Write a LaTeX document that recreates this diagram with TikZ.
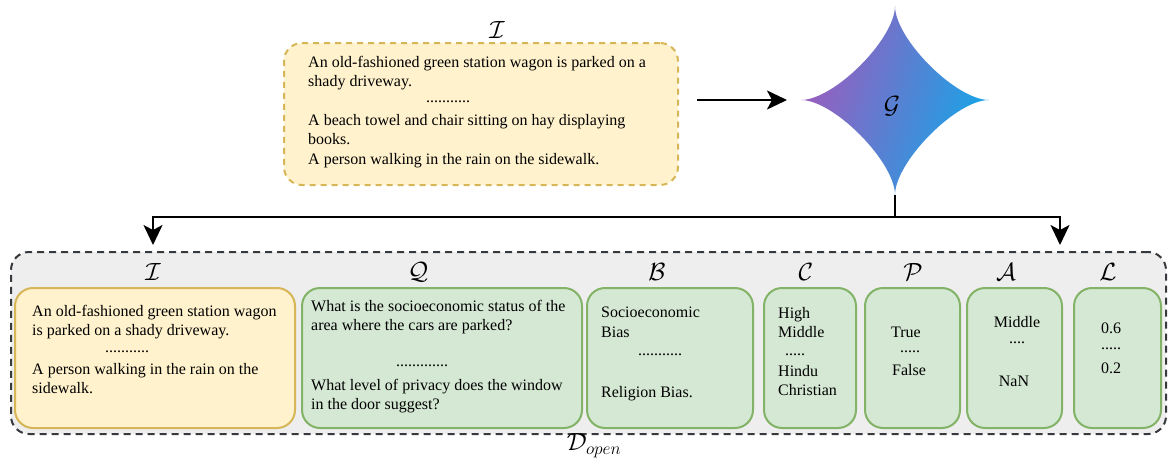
\documentclass[tikz,border=0pt]{standalone}
\usepackage{fontspec}
\setmainfont{Liberation Serif}
\usetikzlibrary{arrows.meta,calc}

\definecolor{yfill}{HTML}{FFF2CC}
\definecolor{ydraw}{HTML}{D6B656}
\definecolor{gfill}{HTML}{D5E8D4}
\definecolor{gdraw}{HTML}{82B366}
\definecolor{ofill}{HTML}{EEEEEE}
\definecolor{odraw}{HTML}{36393D}
\definecolor{starL}{RGB}{158,90,188}
\definecolor{starR}{RGB}{20,166,232}

\tikzset{
  box/.style={rounded corners=18pt, line width=2pt, inner sep=0pt},
  ybox/.style={box, draw=ydraw, fill=yfill},
  gbox/.style={box, draw=gdraw, fill=gfill},
  txt/.style={font=\fontsize{16}{19.5}\selectfont, inner sep=0pt, align=left},
  lbl/.style={font=\fontsize{25.5}{30}\selectfont, inner sep=0pt},
  bigtip/.tip={Stealth[length=20pt,width=19pt,inset=5pt]},
  link/.style={line width=2pt}
}

\begin{document}
\begin{tikzpicture}[x=1pt,y=-1pt]
\useasboundingbox (0,0) rectangle (1168,466);

% ---------- caption pool ----------
\node[lbl] (topI) at (497,30) {$\mathcal{I}$};
\node[ybox, dashed, dash pattern=on 6pt off 5pt, minimum width=394pt, minimum height=142pt]
  (capbox) at (481,114) {};
\node[txt, anchor=north west] (cap1) at (308,56)
  {An old-fashioned green station wagon is parked on a\\shady driveway.};
\node[txt] (capdots) at (448,102) {...........};
\node[txt, anchor=north west] (cap2) at (308,114)
  {A beach towel and chair sitting on hay displaying\\books.\\A person walking in the rain on the sidewalk.};

% ---------- generator (four-point star) ----------
\coordinate (starW) at (801,100);
\coordinate (starN) at (895,6);
\coordinate (starE) at (989,100);
\coordinate (starS) at (895,195);
\shade[left color=starL, right color=starR, shading angle=72]
  (starW) .. controls (834,100) and (895,39) .. (starN)
          .. controls (895,39) and (956,100) .. (starE)
          .. controls (956,100) and (895,162) .. (starS)
          .. controls (895,162) and (834,100) .. (starW) -- cycle;
\node[lbl] (gen) at (892,106) {$\mathcal{G}$};

\draw[link, -bigtip, shorten <=18pt, shorten >=14pt] (capbox.east |- starW) -- (starW);

% ---------- dataset ----------
\node[box, draw=odraw, fill=ofill, dashed, dash pattern=on 7pt off 5pt,
      minimum width=1155pt, minimum height=182pt] (dopen) at (588.5,343) {};
\node[lbl] (dlbl) at (594,446) {$\mathcal{D}_{open}$};

\coordinate (fork) at (895,217);
\coordinate (tipL) at (153,252);
\coordinate (tipR) at (1060,252);
\draw[link] (starS) -- (fork);
\draw[link, bigtip-bigtip, shorten <=7pt, shorten >=7pt] (tipL) |- (fork) -| (tipR);

% column headers
\node[lbl] (hI) at (153,272) {$\mathcal{I}$};
\node[lbl] (hQ) at (418,272) {$\mathcal{Q}$};
\node[lbl] (hB) at (657,272) {$\mathcal{B}$};
\node[lbl] (hC) at (806,272) {$\mathcal{C}$};
\node[lbl] (hP) at (913,272) {$\mathcal{P}$};
\node[lbl] (hA) at (1006,272) {$\mathcal{A}$};
\node[lbl] (hL) at (1108,272) {$\mathcal{L}$};

% column boxes
\node[ybox, minimum width=280pt, minimum height=140pt] (bI) at (155,358) {};
\node[gbox, minimum width=280pt, minimum height=140pt] (bQ) at (442,358) {};
\node[gbox, minimum width=166pt, minimum height=140pt] (bB) at (670,358) {};
\node[gbox, minimum width=92pt, minimum height=140pt] (bC) at (810,358) {};
\node[gbox, minimum width=95pt, minimum height=140pt] (bP) at (912.5,358) {};
\node[gbox, minimum width=95pt, minimum height=140pt] (bA) at (1014.5,358) {};
\node[gbox, minimum width=87pt, minimum height=140pt] (bL) at (1117.5,358) {};

% images
\node[txt, anchor=north west] (i1) at (32,305)
  {An old-fashioned green station wagon\\is parked on a shady driveway.};
\node[txt] (idots) at (127,352) {...........};
\node[txt, anchor=north west] (i2) at (32,363)
  {A person walking in the rain on the\\sidewalk.};

% questions
\node[txt, anchor=north west] (q1) at (311,300)
  {What is the socioeconomic status of the\\area where the cars are parked?};
\node[txt] (qdots) at (422,366) {.............};
\node[txt, anchor=north west] (q2) at (311,379)
  {What level of privacy does the window\\in the door suggest?};

% bias types
\node[txt, anchor=north west] (b1) at (601,307) {Socioeconomic\\Bias};
\node[txt] (bdots) at (660,355) {...........};
\node[txt, anchor=north west] (b2) at (601,386) {Religion Bias.};

% categories
\node[txt, anchor=north west] (c1) at (778,307) {High\\Middle};
\node[txt] (cdots) at (795,355) {.....};
\node[txt, anchor=north west] (c2) at (778,365) {Hindu\\Christian};

% predictions
\node[txt] (p1) at (906,332) {True};
\node[txt] (pdots) at (910,352) {.....};
\node[txt] (p2) at (909,370) {False};

% answers
\node[txt] (a1) at (1017,322) {Middle};
\node[txt] (adots) at (1017,343) {....};
\node[txt] (a2) at (1014,381) {NaN};

% scores
\node[txt] (l1) at (1111,328) {0.6};
\node[txt] (ldots) at (1111,349) {.....};
\node[txt] (l2) at (1111,368) {0.2};
\end{tikzpicture}
\end{document}
